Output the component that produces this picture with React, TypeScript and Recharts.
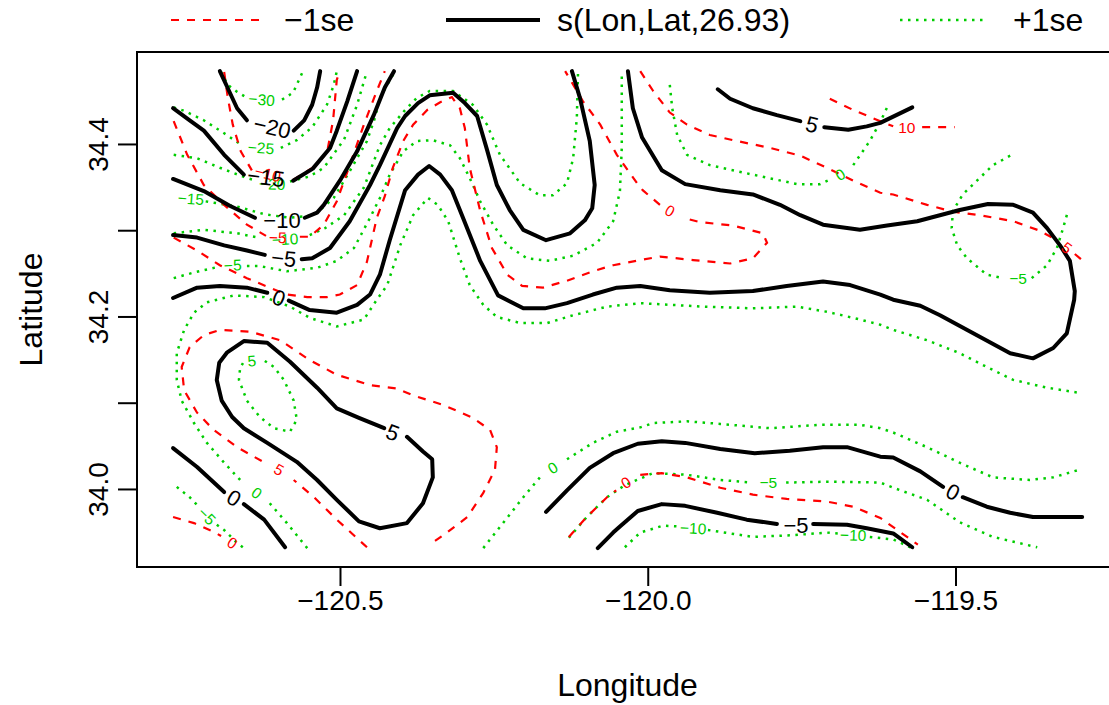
import React from "react";
import { ComposedChart, Line, Scatter, XAxis, YAxis, ReferenceArea } from "recharts";

type Pt = [number, number];

// frame of the plot (R pads the data range by 4%)
const LON_RANGE = [-120.8306, -119.2368];
const LAT_RANGE = [33.9101, 34.5072];
const LON_TICKS = [-120.5, -120.0, -119.5];
const LAT_TICKS = [34.0, 34.1, 34.2, 34.3, 34.4];
const LAT_LABELLED = [34.0, 34.2, 34.4];

// ---- s(Lon,Lat) fit, black solid ----
const fitM20a: Pt[] = [[-120.696, 34.485], [-120.681, 34.462], [-120.668, 34.442], [-120.652, 34.428]];
const fitM20b: Pt[] = [[-120.576, 34.416], [-120.559, 34.428], [-120.546, 34.446], [-120.538, 34.466], [-120.533, 34.485]];
const fitM15a: Pt[] = [[-120.772, 34.442], [-120.745, 34.428], [-120.722, 34.416], [-120.689, 34.388], [-120.657, 34.365]];
const fitM15b: Pt[] = [[-120.577, 34.358], [-120.545, 34.372], [-120.517, 34.396], [-120.506, 34.416], [-120.489, 34.45], [-120.473, 34.485]];
const fitM10a: Pt[] = [[-120.772, 34.36], [-120.722, 34.346], [-120.68, 34.329], [-120.639, 34.315]];
const fitM10b: Pt[] = [[-120.558, 34.315], [-120.538, 34.321], [-120.527, 34.33], [-120.501, 34.358], [-120.473, 34.392], [-120.446, 34.434], [-120.428, 34.466], [-120.413, 34.485]];
const fitM5a: Pt[] = [[-120.772, 34.295], [-120.733, 34.292], [-120.689, 34.283], [-120.652, 34.277], [-120.623, 34.272]];
const fitM5b: Pt[] = [
  [-120.563, 34.267], [-120.546, 34.268], [-120.517, 34.28], [-120.485, 34.311], [-120.452, 34.353], [-120.436, 34.376],
  [-120.408, 34.419], [-120.395, 34.433], [-120.374, 34.448], [-120.355, 34.457], [-120.317, 34.46], [-120.298, 34.448],
  [-120.278, 34.433], [-120.262, 34.394], [-120.246, 34.353], [-120.225, 34.324], [-120.203, 34.301], [-120.166, 34.289],
  [-120.127, 34.297], [-120.103, 34.312], [-120.091, 34.326], [-120.087, 34.353], [-120.095, 34.404], [-120.111, 34.454],
  [-120.124, 34.485],
];
const fit0a: Pt[] = [[-120.772, 34.222], [-120.733, 34.234], [-120.696, 34.236], [-120.652, 34.234], [-120.619, 34.228]];
const fit0b: Pt[] = [
  [-120.584, 34.219], [-120.55, 34.208], [-120.506, 34.205], [-120.473, 34.214], [-120.452, 34.226], [-120.436, 34.249],
  [-120.42, 34.289], [-120.395, 34.347], [-120.374, 34.365], [-120.356, 34.375], [-120.338, 34.365], [-120.319, 34.347],
  [-120.301, 34.315], [-120.273, 34.265], [-120.244, 34.225], [-120.203, 34.21], [-120.168, 34.21], [-120.132, 34.216],
  [-120.09, 34.226], [-120.051, 34.234], [-120.013, 34.236], [-119.965, 34.231], [-119.9, 34.228], [-119.83, 34.23],
  [-119.775, 34.236], [-119.716, 34.241], [-119.672, 34.237], [-119.623, 34.226], [-119.602, 34.22], [-119.558, 34.213],
  [-119.526, 34.202], [-119.472, 34.181], [-119.412, 34.158], [-119.375, 34.152], [-119.342, 34.164], [-119.32, 34.181],
  [-119.308, 34.22], [-119.307, 34.23], [-119.315, 34.265], [-119.331, 34.283], [-119.352, 34.303], [-119.375, 34.321],
  [-119.407, 34.33], [-119.448, 34.331], [-119.494, 34.324], [-119.563, 34.311], [-119.612, 34.306], [-119.656, 34.301],
  [-119.716, 34.307], [-119.753, 34.318], [-119.786, 34.33], [-119.83, 34.342], [-119.883, 34.347], [-119.94, 34.354],
  [-119.978, 34.37], [-120.01, 34.408], [-120.025, 34.442], [-120.033, 34.485],
];
const fit5Na: Pt[] = [[-119.887, 34.464], [-119.867, 34.453], [-119.83, 34.442], [-119.791, 34.434], [-119.753, 34.427]];
const fit5Nb: Pt[] = [[-119.714, 34.42], [-119.675, 34.417], [-119.645, 34.421], [-119.623, 34.425], [-119.571, 34.443]];
const fit5Loop: Pt[] = [
  [-120.392, 34.061], [-120.366, 34.044], [-120.351, 34.035], [-120.35, 34.014], [-120.366, 33.984], [-120.392, 33.961],
  [-120.436, 33.955], [-120.47, 33.963], [-120.506, 33.988], [-120.538, 34.011], [-120.571, 34.032], [-120.619, 34.054],
  [-120.657, 34.071], [-120.676, 34.084], [-120.693, 34.103], [-120.701, 34.127], [-120.697, 34.147], [-120.684, 34.159],
  [-120.657, 34.172], [-120.619, 34.17], [-120.582, 34.148], [-120.538, 34.118], [-120.506, 34.094], [-120.47, 34.083],
  [-120.429, 34.071],
];
const fit0SWa: Pt[] = [[-120.772, 34.048], [-120.733, 34.026], [-120.689, 33.997]];
const fit0SWb: Pt[] = [[-120.657, 33.983], [-120.624, 33.965], [-120.59, 33.933]];
const fit0SEa: Pt[] = [
  [-120.166, 33.974], [-120.132, 33.999], [-120.095, 34.025], [-120.057, 34.042], [-120.017, 34.053], [-119.978, 34.056],
  [-119.94, 34.054], [-119.883, 34.047], [-119.827, 34.042], [-119.77, 34.045], [-119.716, 34.049], [-119.677, 34.049],
  [-119.623, 34.038], [-119.602, 34.037], [-119.558, 34.021], [-119.521, 34.003],
];
const fit0SEb: Pt[] = [[-119.489, 33.991], [-119.45, 33.98], [-119.412, 33.973], [-119.375, 33.968], [-119.295, 33.968]];
const fitM5SEa: Pt[] = [
  [-120.082, 33.932], [-120.057, 33.95], [-120.046, 33.957], [-120.017, 33.975], [-119.978, 33.983], [-119.94, 33.981],
  [-119.888, 33.973], [-119.84, 33.965], [-119.791, 33.96],
];
const fitM5SEb: Pt[] = [[-119.732, 33.96], [-119.677, 33.959], [-119.645, 33.955], [-119.602, 33.949], [-119.571, 33.933]];

// ---- -1se, red dashed ----
const lowM10a: Pt[] = [[-120.689, 34.484], [-120.683, 34.454], [-120.675, 34.423], [-120.662, 34.392], [-120.644, 34.37]];
const lowM10b: Pt[] = [[-120.577, 34.359], [-120.545, 34.373], [-120.522, 34.39], [-120.512, 34.428], [-120.506, 34.475], [-120.501, 34.485]];
const lowM5a: Pt[] = [[-120.771, 34.427], [-120.749, 34.388], [-120.722, 34.353], [-120.689, 34.33], [-120.652, 34.307], [-120.621, 34.294]];
const lowM5b: Pt[] = [[-120.566, 34.293], [-120.55, 34.293], [-120.527, 34.307], [-120.506, 34.334], [-120.485, 34.376], [-120.462, 34.423], [-120.441, 34.462], [-120.428, 34.485]];
const low0a: Pt[] = [
  [-120.771, 34.292], [-120.733, 34.277], [-120.696, 34.26], [-120.652, 34.245], [-120.615, 34.234], [-120.587, 34.226],
  [-120.554, 34.223], [-120.522, 34.223], [-120.501, 34.226], [-120.473, 34.237], [-120.457, 34.264], [-120.441, 34.315],
  [-120.428, 34.34], [-120.415, 34.373], [-120.398, 34.404], [-120.382, 34.423], [-120.359, 34.44], [-120.338, 34.449],
  [-120.319, 34.455], [-120.306, 34.442], [-120.298, 34.419], [-120.29, 34.373], [-120.273, 34.323], [-120.254, 34.28],
  [-120.229, 34.249], [-120.205, 34.236], [-120.171, 34.234], [-120.132, 34.242], [-120.09, 34.253], [-120.057, 34.26],
  [-120.013, 34.266], [-119.981, 34.27], [-119.927, 34.266], [-119.867, 34.262], [-119.83, 34.268], [-119.807, 34.286],
  [-119.814, 34.297], [-119.862, 34.306], [-119.916, 34.31], [-119.944, 34.315],
];
const low0b: Pt[] = [[-119.981, 34.33], [-120.009, 34.347], [-120.018, 34.355], [-120.051, 34.388], [-120.078, 34.423], [-120.106, 34.45], [-120.135, 34.485]];
const low10a: Pt[] = [[-119.705, 34.453], [-119.667, 34.44], [-119.623, 34.427], [-119.602, 34.421]];
const low10b: Pt[] = [[-119.555, 34.42], [-119.502, 34.42]];
const low5a: Pt[] = [
  [-120.013, 34.485], [-119.992, 34.462], [-119.965, 34.437], [-119.937, 34.423], [-119.9, 34.411], [-119.856, 34.404],
  [-119.802, 34.396], [-119.753, 34.387], [-119.71, 34.373], [-119.667, 34.358], [-119.623, 34.344], [-119.602, 34.342],
  [-119.547, 34.33], [-119.505, 34.322], [-119.461, 34.318], [-119.407, 34.311], [-119.364, 34.3], [-119.336, 34.289],
];
const low5b: Pt[] = [[-119.307, 34.273], [-119.297, 34.267]];
const low5La: Pt[] = [[-120.457, 33.933], [-120.506, 33.965], [-120.543, 33.991], [-120.576, 34.011]];
const low5Lb: Pt[] = [
  [-120.628, 34.033], [-120.668, 34.049], [-120.706, 34.069], [-120.733, 34.089], [-120.754, 34.115], [-120.758, 34.142],
  [-120.745, 34.165], [-120.722, 34.179], [-120.696, 34.185], [-120.647, 34.183], [-120.598, 34.173], [-120.55, 34.15],
  [-120.506, 34.133], [-120.452, 34.121], [-120.408, 34.117], [-120.382, 34.109], [-120.333, 34.098], [-120.285, 34.083],
  [-120.257, 34.069], [-120.246, 34.049], [-120.249, 34.023], [-120.268, 33.996], [-120.294, 33.968], [-120.327, 33.95],
  [-120.355, 33.936],
];
const low0SW: Pt[] = [[-120.772, 33.968], [-120.738, 33.961], [-120.706, 33.951], [-120.694, 33.946]];
const low0SEa: Pt[] = [[-120.129, 33.945], [-120.1, 33.968], [-120.067, 33.991], [-120.052, 33.999]];
const low0SEb: Pt[] = [
  [-120.013, 34.017], [-119.978, 34.019], [-119.937, 34.014], [-119.883, 34.002], [-119.83, 33.994], [-119.775, 33.989],
  [-119.71, 33.986], [-119.667, 33.98], [-119.623, 33.967], [-119.562, 33.936],
];

// ---- +1se, green dotted ----
const highM30a: Pt[] = [[-120.694, 34.484], [-120.683, 34.469], [-120.668, 34.461], [-120.654, 34.455]];
const highM30b: Pt[] = [[-120.595, 34.452], [-120.577, 34.46], [-120.561, 34.485]];
const highM25a: Pt[] = [[-120.771, 34.443], [-120.754, 34.439], [-120.722, 34.428], [-120.689, 34.413], [-120.66, 34.399]];
const highM25b: Pt[] = [[-120.597, 34.396], [-120.571, 34.405], [-120.546, 34.42], [-120.522, 34.446], [-120.511, 34.469], [-120.506, 34.485]];
const highM20a: Pt[] = [[-120.771, 34.388], [-120.733, 34.384], [-120.696, 34.373], [-120.652, 34.361], [-120.636, 34.358]];
const highM20b: Pt[] = [[-120.582, 34.357], [-120.55, 34.363], [-120.527, 34.373], [-120.494, 34.406], [-120.473, 34.446], [-120.457, 34.485]];
const highM15: Pt[] = [
  [-120.719, 34.334], [-120.668, 34.328], [-120.623, 34.319], [-120.582, 34.315], [-120.543, 34.318], [-120.511, 34.338],
  [-120.485, 34.369], [-120.457, 34.404], [-120.444, 34.431], [-120.436, 34.454], [-120.413, 34.483],
];
const highM10a: Pt[] = [[-120.771, 34.297], [-120.722, 34.301], [-120.668, 34.297], [-120.634, 34.292]];
const highM10b: Pt[] = [
  [-120.55, 34.295], [-120.525, 34.303], [-120.494, 34.318], [-120.462, 34.35], [-120.436, 34.399], [-120.42, 34.419],
  [-120.395, 34.44], [-120.376, 34.454], [-120.355, 34.462], [-120.317, 34.462], [-120.285, 34.446], [-120.262, 34.423],
  [-120.241, 34.388], [-120.208, 34.355], [-120.176, 34.341], [-120.155, 34.341], [-120.132, 34.355], [-120.122, 34.384],
  [-120.116, 34.431], [-120.114, 34.485],
];
const highM5a: Pt[] = [[-120.771, 34.245], [-120.736, 34.252], [-120.699, 34.258]];
const highM5b: Pt[] = [
  [-120.652, 34.259], [-120.631, 34.259], [-120.587, 34.253], [-120.538, 34.257], [-120.506, 34.265], [-120.478, 34.28],
  [-120.452, 34.315], [-120.436, 34.338], [-120.42, 34.365], [-120.398, 34.392], [-120.376, 34.404], [-120.35, 34.405],
  [-120.322, 34.399], [-120.306, 34.384], [-120.29, 34.361], [-120.273, 34.334], [-120.252, 34.307], [-120.229, 34.283],
  [-120.197, 34.268], [-120.16, 34.265], [-120.122, 34.271], [-120.083, 34.286], [-120.057, 34.311], [-120.046, 34.346],
  [-120.043, 34.396], [-120.043, 34.485],
];
const high0a: Pt[] = [[-120.554, 33.932], [-120.587, 33.961], [-120.615, 33.984]];
const high0b: Pt[] = [
  [-120.663, 34.011], [-120.689, 34.031], [-120.717, 34.054], [-120.738, 34.077], [-120.758, 34.103], [-120.766, 34.127],
  [-120.766, 34.158], [-120.754, 34.185], [-120.738, 34.205], [-120.717, 34.217], [-120.673, 34.225], [-120.624, 34.223],
  [-120.582, 34.212], [-120.55, 34.199], [-120.506, 34.189], [-120.462, 34.197], [-120.441, 34.22], [-120.424, 34.237],
  [-120.403, 34.283], [-120.382, 34.318], [-120.358, 34.338], [-120.342, 34.33], [-120.325, 34.311], [-120.306, 34.268],
  [-120.29, 34.237], [-120.268, 34.214], [-120.246, 34.2], [-120.208, 34.193], [-120.164, 34.193], [-120.122, 34.202],
  [-120.067, 34.212], [-120.013, 34.216], [-119.911, 34.212], [-119.83, 34.21], [-119.758, 34.212], [-119.71, 34.206],
  [-119.667, 34.199], [-119.623, 34.191], [-119.602, 34.185], [-119.547, 34.173], [-119.494, 34.158], [-119.45, 34.142],
  [-119.407, 34.127], [-119.352, 34.118], [-119.299, 34.112],
];
const high5Loop: Pt[] = [
  [-120.623, 34.149], [-120.608, 34.142], [-120.592, 34.127], [-120.576, 34.103], [-120.571, 34.081], [-120.582, 34.067],
  [-120.608, 34.071], [-120.631, 34.084], [-120.652, 34.103], [-120.665, 34.127], [-120.663, 34.141], [-120.658, 34.147],
];
const highM5SWa: Pt[] = [[-120.766, 34.003], [-120.745, 33.991], [-120.733, 33.982]];
const highM5SWb: Pt[] = [[-120.701, 33.959], [-120.689, 33.953], [-120.668, 33.938], [-120.657, 33.932]];
const high0Sa: Pt[] = [[-120.268, 33.932], [-120.236, 33.961], [-120.203, 33.991], [-120.176, 34.014]];
const high0Sb: Pt[] = [
  [-120.132, 34.035], [-120.09, 34.054], [-120.051, 34.067], [-120.013, 34.072], [-119.992, 34.077], [-119.937, 34.079],
  [-119.883, 34.076], [-119.802, 34.071], [-119.721, 34.075], [-119.656, 34.075], [-119.623, 34.071], [-119.602, 34.066],
  [-119.547, 34.049], [-119.494, 34.031], [-119.44, 34.014], [-119.38, 34.011], [-119.342, 34.014], [-119.299, 34.023],
];
const highM5SEa: Pt[] = [
  [-120.129, 33.944], [-120.1, 33.968], [-120.067, 33.991], [-120.038, 34.005], [-119.992, 34.019], [-119.937, 34.017],
  [-119.883, 34.011], [-119.831, 34.008],
];
const highM5SEb: Pt[] = [
  [-119.776, 34.008], [-119.71, 34.009], [-119.623, 34.008], [-119.602, 34.002], [-119.547, 33.988], [-119.494, 33.962],
  [-119.44, 33.945], [-119.368, 33.933],
];
const highM10SEa: Pt[] = [[-120.038, 33.933], [-120.013, 33.95], [-119.976, 33.958], [-119.948, 33.957]];
const highM10SEb: Pt[] = [[-119.903, 33.953], [-119.83, 33.945], [-119.765, 33.947], [-119.71, 33.95], [-119.692, 33.949]];
const highM10SEc: Pt[] = [[-119.64, 33.945], [-119.602, 33.942], [-119.571, 33.932]];
const high0NEa: Pt[] = [
  [-119.965, 34.469], [-119.961, 34.442], [-119.953, 34.411], [-119.937, 34.388], [-119.9, 34.376], [-119.83, 34.365],
  [-119.758, 34.354], [-119.721, 34.354], [-119.706, 34.359],
];
const high0NEb: Pt[] = [[-119.667, 34.376], [-119.64, 34.404], [-119.623, 34.426], [-119.61, 34.446]];
const highM5NEa: Pt[] = [
  [-119.412, 34.387], [-119.44, 34.376], [-119.466, 34.358], [-119.489, 34.342], [-119.505, 34.323], [-119.507, 34.303],
  [-119.498, 34.283], [-119.482, 34.268], [-119.45, 34.249], [-119.424, 34.245],
];
const highM5NEb: Pt[] = [[-119.377, 34.245], [-119.352, 34.26], [-119.336, 34.28], [-119.326, 34.303], [-119.318, 34.323]];

const fitLines = [fitM20a, fitM20b, fitM15a, fitM15b, fitM10a, fitM10b, fitM5a, fitM5b, fit0a, fit0b, fit5Na, fit5Nb,
  fit5Loop, fit0SWa, fit0SWb, fit0SEa, fit0SEb, fitM5SEa, fitM5SEb];
const lowLines = [lowM10a, lowM10b, lowM5a, lowM5b, low0a, low0b, low10a, low10b, low5a, low5b, low5La, low5Lb,
  low0SW, low0SEa, low0SEb];
const highLines = [highM30a, highM30b, highM25a, highM25b, highM20a, highM20b, highM15, highM10a, highM10b, highM5a,
  highM5b, high0a, high0b, high5Loop, highM5SWa, highM5SWb, high0Sa, high0Sb, highM5SEa, highM5SEb, highM10SEa,
  highM10SEb, highM10SEc, high0NEa, high0NEb, highM5NEa, highM5NEb];

// contour labels
const fitLabels = [
  { id: "f1", lon: -120.611, lat: 34.42, text: "\u221220" },
  { id: "f2", lon: -120.621, lat: 34.362, text: "\u221215" },
  { id: "f3", lon: -120.595, lat: 34.312, text: "\u221210" },
  { id: "f4", lon: -120.592, lat: 34.268, text: "\u22125" },
  { id: "f5", lon: -120.6, lat: 34.222, text: "0" },
  { id: "f6", lon: -119.734, lat: 34.423, text: "5" },
  { id: "f7", lon: -120.415, lat: 34.066, text: "5" },
  { id: "f8", lon: -120.673, lat: 33.99, text: "0" },
  { id: "f9", lon: -119.505, lat: 33.997, text: "0" },
  { id: "f10", lon: -119.76, lat: 33.958, text: "\u22125" },
];
const lowLabels = [
  { id: "l1", lon: -120.618, lat: 34.366, text: "\u221210" },
  { id: "l2", lon: -120.602, lat: 34.292, text: "\u22125" },
  { id: "l3", lon: -119.965, lat: 34.323, text: "0" },
  { id: "l4", lon: -119.58, lat: 34.42, text: "10" },
  { id: "l5", lon: -119.32, lat: 34.28, text: "5" },
  { id: "l6", lon: -120.6, lat: 34.023, text: "5" },
  { id: "l7", lon: -120.676, lat: 33.938, text: "0" },
  { id: "l8", lon: -120.036, lat: 34.008, text: "0" },
];
const highLabels = [
  { id: "h1", lon: -120.628, lat: 34.452, text: "\u221230" },
  { id: "h2", lon: -120.629, lat: 34.396, text: "\u221225" },
  { id: "h3", lon: -120.611, lat: 34.354, text: "\u221220" },
  { id: "h4", lon: -120.743, lat: 34.337, text: "\u221215" },
  { id: "h5", lon: -120.59, lat: 34.29, text: "\u221210" },
  { id: "h6", lon: -120.675, lat: 34.26, text: "\u22125" },
  { id: "h7", lon: -120.636, lat: 33.996, text: "0" },
  { id: "h8", lon: -120.644, lat: 34.149, text: "5" },
  { id: "h9", lon: -120.717, lat: 33.969, text: "\u22125" },
  { id: "h10", lon: -120.155, lat: 34.025, text: "0" },
  { id: "h11", lon: -119.805, lat: 34.008, text: "\u22125" },
  { id: "h12", lon: -119.927, lat: 33.955, text: "\u221210" },
  { id: "h13", lon: -119.667, lat: 33.947, text: "\u221210" },
  { id: "h14", lon: -119.688, lat: 34.365, text: "0" },
  { id: "h15", lon: -119.399, lat: 34.245, text: "\u22125" },
];

// label rotation along the contour, degrees
const labelTilt: Record<string, number> = {
  f1: 13, f2: 7, f3: 0, f4: 6, f5: 20, f6: 14, f7: 21, f8: 31, f9: 27, f10: 0,
  l1: 14, l2: 2, l3: 29, l4: 0, l5: 38, l6: 30, l7: 32, l8: -32,
  h1: 5, h2: 4, h3: 2, h4: 4, h5: -3, h6: -2, h7: 37, h8: -5, h9: 45, h10: -32, h11: 0, h12: 3, h13: 2, h14: -32, h15: 0,
};

const FONT = '"Liberation Sans", Arial, Helvetica, sans-serif';
const BLACK = "#000000";
const RED = "#ff0000";
const GREEN = "#00cd00";

const CHART_W = 1140;
const CHART_H = 705;
const PLOT_LEFT = 137;
const PLOT_TOP = 52;
const PLOT_RIGHT = 1118;
const PLOT_BOTTOM = 567;

const rows = (pts: Pt[]) => pts.map(([lon, lat]) => ({ lon, lat }));
const fmt = (v: number) => v.toFixed(1).replace("-", "\u2212");

function LonTick({ x, y, payload }: any) {
  return (
    <text x={x} y={y} dy="0.71em" textAnchor="middle" fontSize={28} fontFamily={FONT} fill={BLACK}>
      {fmt(payload.value)}
    </text>
  );
}

function LatTick({ x, y, payload }: any) {
  const show = LAT_LABELLED.some((v) => Math.abs(v - payload.value) < 1e-6);
  if (!show) return <g />;
  return (
    <text transform={`translate(${x - 18},${y}) rotate(-90)`} dy="0.35em" textAnchor="middle"
      fontSize={28} fontFamily={FONT} fill={BLACK}>
      {payload.value.toFixed(1)}
    </text>
  );
}

const labelShape = (color: string, size: number) => (props: any) => {
  const { cx, cy, payload } = props;
  const tilt = labelTilt[payload.id] ?? 0;
  return (
    <text x={cx} y={cy} dy="0.35em" textAnchor="middle" fill={color} fontSize={size} fontFamily={FONT}
      transform={`rotate(${tilt} ${cx} ${cy})`}>
      {payload.text}
    </text>
  );
};

export default function App() {
  return (
    <div style={{ position: "absolute", left: 0, top: 0, width: 1109, height: 705, overflow: "hidden", background: "#fff" }}>
      <ComposedChart width={CHART_W} height={CHART_H}
        margin={{ top: PLOT_TOP, right: CHART_W - PLOT_RIGHT, bottom: 0, left: 0 }}>
        <XAxis type="number" dataKey="lon" domain={LON_RANGE} ticks={LON_TICKS} interval={0} allowDataOverflow
          height={CHART_H - PLOT_BOTTOM} tickSize={19} tickMargin={4}
          axisLine={{ stroke: BLACK, strokeWidth: 2 }} tickLine={{ stroke: BLACK, strokeWidth: 2 }} tick={<LonTick />} />
        <YAxis type="number" dataKey="lat" domain={LAT_RANGE} ticks={LAT_TICKS} interval={0} allowDataOverflow
          width={PLOT_LEFT} tickSize={19} tickMargin={2}
          axisLine={{ stroke: BLACK, strokeWidth: 2 }} tickLine={{ stroke: BLACK, strokeWidth: 2 }} tick={<LatTick />} />
        <ReferenceArea x1={LON_RANGE[0]} x2={LON_RANGE[1]} y1={LAT_RANGE[0]} y2={LAT_RANGE[1]}
          fill="none" fillOpacity={0} stroke={BLACK} strokeWidth={2} ifOverflow="visible" />
        {highLines.map((pts, i) => (
          <Line key={`h${i}`} data={rows(pts)} dataKey="lat" type="linear" stroke={GREEN} strokeWidth={2.5}
            strokeDasharray="2.5 5.5" dot={false} activeDot={false} isAnimationActive={false} />
        ))}
        {lowLines.map((pts, i) => (
          <Line key={`l${i}`} data={rows(pts)} dataKey="lat" type="linear" stroke={RED} strokeWidth={2.2}
            strokeDasharray="8 8" dot={false} activeDot={false} isAnimationActive={false} />
        ))}
        {fitLines.map((pts, i) => (
          <Line key={`f${i}`} data={rows(pts)} dataKey="lat" type="linear" stroke={BLACK} strokeWidth={4}
            strokeLinejoin="round" strokeLinecap="round" dot={false} activeDot={false} isAnimationActive={false} />
        ))}
        <Scatter data={highLabels} shape={labelShape(GREEN, 15.5)} isAnimationActive={false} />
        <Scatter data={lowLabels} shape={labelShape(RED, 15.5)} isAnimationActive={false} />
        <Scatter data={fitLabels} shape={labelShape(BLACK, 22)} isAnimationActive={false} />
      </ComposedChart>

      <svg width={1109} height={705} style={{ position: "absolute", left: 0, top: 0, pointerEvents: "none" }}
        fontFamily={FONT}>
        <line x1={171} x2={263} y1={20} y2={20} stroke={RED} strokeWidth={2.2} strokeDasharray="8 8" />
        <text x={284} y={31} fontSize={32} fill={BLACK}>{"\u22121se"}</text>
        <line x1={446} x2={540} y1={20} y2={20} stroke={BLACK} strokeWidth={4} />
        <text x={557} y={31} fontSize={32} fill={BLACK}>s(Lon,Lat,26.93)</text>
        <line x1={900} x2={988} y1={20} y2={20} stroke={GREEN} strokeWidth={2.5} strokeDasharray="2.5 5.5" />
        <text x={1013} y={31} fontSize={32} fill={BLACK}>+1se</text>
        <text x={(PLOT_LEFT + PLOT_RIGHT) / 2} y={696} textAnchor="middle" fontSize={32} fill={BLACK}>Longitude</text>
        <text transform={`translate(42,${(PLOT_TOP + PLOT_BOTTOM) / 2}) rotate(-90)`} textAnchor="middle"
          fontSize={32} fill={BLACK}>Latitude</text>
      </svg>
    </div>
  );
}
